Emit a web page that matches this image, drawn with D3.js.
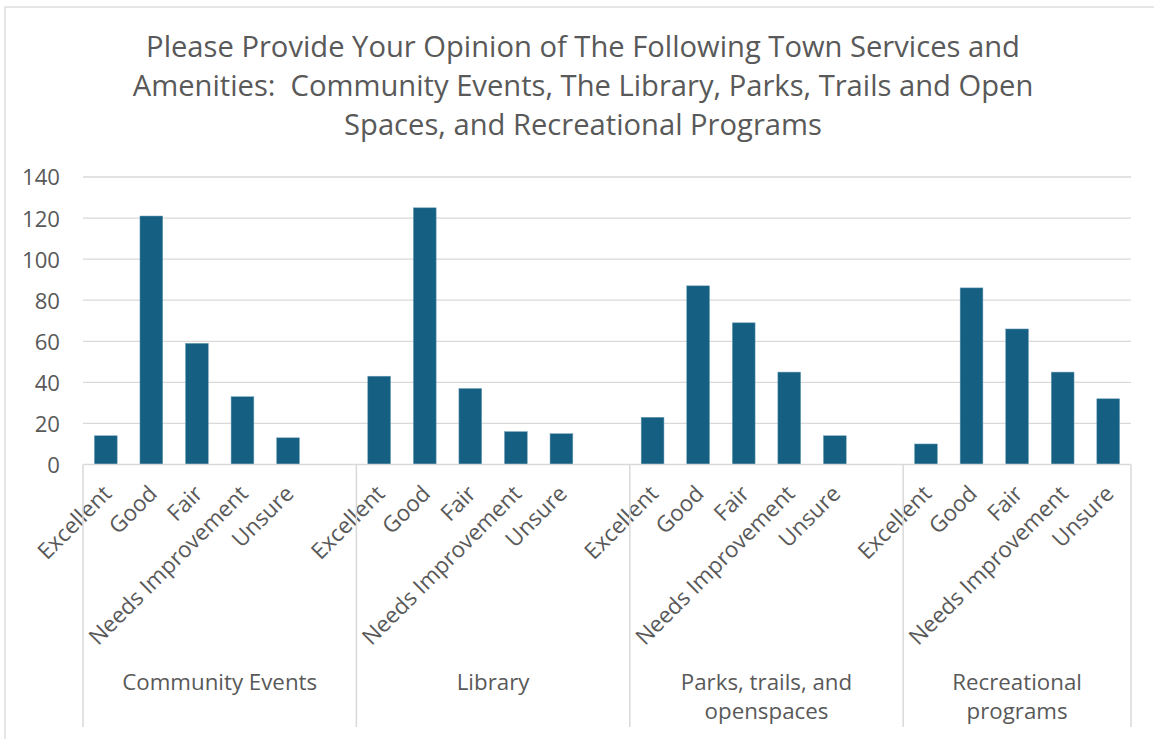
<!DOCTYPE html>
<html>
<head>
<meta charset="utf-8">
<script src="https://cdn.jsdelivr.net/npm/d3@7"></script>
<style>
  html, body { margin: 0; padding: 0; background: #ffffff; }
  svg { display: block; }
</style>
</head>
<body>
<svg id="chart" width="1154" height="739"></svg>
<script>
// ---------- data ----------
const titleLines = [
  "Please Provide Your Opinion of The Following Town Services and",
  "Amenities:  Community Events, The Library, Parks, Trails and Open",
  "Spaces, and Recreational Programs"
];
const groups = ["Community Events", "Library", "Parks, trails, and openspaces", "Recreational programs"];
const ratings = ["Excellent", "Good", "Fair", "Needs Improvement", "Unsure"];
const communityEvents = [14, 121, 59, 33, 13];
const library = [43, 125, 37, 16, 15];
const parks = [23, 87, 69, 45, 14];
const recreational = [10, 86, 66, 45, 32];
const yTicks = [0, 20, 40, 60, 80, 100, 120, 140];
// Excel leaves one blank category after each of the first three groups
const blankAfter = [true, true, true, false];

const seriesByGroup = [communityEvents, library, parks, recreational];

// ---------- layout ----------
const W = 1154, H = 739;
const plot = { left: 83, right: 1131, top: 177, bottom: 464.5 };
const FONT = "'Open Sans', 'Liberation Sans', Arial, sans-serif";
const TEXT = "#595959";
const GRID = "#d9d9d9";
const BAR = "#156082";

const svg = d3.select("#chart");

// font fitting helper (matches text widths of the original font)
function fitSize(sample, targetWidth) {
  const t = svg.append("text").attr("font-family", FONT).attr("font-size", 100)
    .style("white-space", "pre").text(sample);
  const w = t.node().getComputedTextLength();
  t.remove();
  return 100 * targetWidth / w;
}
const titleSize = fitSize(titleLines[0], 874);
const tickSize = fitSize("Needs Improvement", 214);
const ySize = fitSize("140", 38);
const groupSize = fitSize("Community Events", 195);

// chart border
svg.append("rect")
  .attr("x", 5).attr("y", 7).attr("width", W + 20).attr("height", H + 20)
  .attr("fill", "#fff").attr("stroke", GRID).attr("stroke-width", 1.3);

// title
svg.append("g").selectAll("text").data(titleLines).join("text")
  .attr("x", 583)
  .attr("y", (d, i) => 57 + i * 39)
  .attr("text-anchor", "middle")
  .attr("font-family", FONT)
  .attr("font-size", titleSize)
  .attr("fill", TEXT)
  .style("white-space", "pre")
  .text(d => d);

// build slots
const slots = [];
groups.forEach((g, gi) => {
  ratings.forEach((r, ri) => slots.push({ key: g + "|" + r, group: g, gi, rating: r, value: seriesByGroup[gi][ri] }));
  if (blankAfter[gi]) slots.push({ key: g + "|", group: g, gi, rating: "", value: null });
});

const x = d3.scaleBand()
  .domain(slots.map(d => d.key))
  .range([plot.left, plot.right])
  .paddingInner(0.5)
  .paddingOuter(0.25);
const step = x.step();

const y = d3.scaleLinear().domain([0, 140]).range([plot.bottom, plot.top]);

// gridlines
svg.append("g").selectAll("line").data(yTicks.filter(t => t > 0)).join("line")
  .attr("x1", plot.left).attr("x2", plot.right)
  .attr("y1", d => y(d)).attr("y2", d => y(d))
  .attr("stroke", GRID).attr("stroke-width", 1.3);

// y axis labels
const yAxis = d3.axisLeft(y).tickValues(yTicks).tickSize(0).tickPadding(0);
const yg = svg.append("g").attr("transform", `translate(${plot.left - 23},0)`).call(yAxis);
yg.select(".domain").remove();
yg.selectAll("text")
  .attr("font-family", FONT).attr("font-size", ySize).attr("fill", TEXT)
  .attr("dy", "0.36em");

// bars
svg.append("g").selectAll("rect").data(slots.filter(d => d.value !== null)).join("rect")
  .attr("x", d => x(d.key))
  .attr("width", x.bandwidth())
  .attr("y", d => y(d.value))
  .attr("height", d => y(0) - y(d.value))
  .attr("fill", BAR)
  .attr("stroke", "#6f9fb8").attr("stroke-width", 0.5);

// x axis line
svg.append("line")
  .attr("x1", plot.left).attr("x2", plot.right)
  .attr("y1", y(0)).attr("y2", y(0))
  .attr("stroke", GRID).attr("stroke-width", 1.5);

// category labels (rotated)
svg.append("g").selectAll("text").data(slots.filter(d => d.rating)).join("text")
  .attr("transform", d => `translate(${x(d.key) + x.bandwidth() / 2 + 7},${495}) rotate(-45)`)
  .attr("text-anchor", "end")
  .attr("font-family", FONT).attr("font-size", tickSize).attr("fill", TEXT)
  .text(d => d.rating);

// group separators & labels
const groupBounds = groups.map((g, gi) => {
  const gs = slots.filter(s => s.gi === gi);
  const start = x(gs[0].key) - step * 0.25;
  const end = x(gs[gs.length - 1].key) + x.bandwidth() + step * 0.25;
  return { g, start, end };
});
const sepX = [groupBounds[0].start].concat(groupBounds.map(b => b.end));
svg.append("g").selectAll("line").data(sepX).join("line")
  .attr("x1", d => d).attr("x2", d => d)
  .attr("y1", y(0)).attr("y2", 727)
  .attr("stroke", GRID).attr("stroke-width", 1.5);

function wrapWords(text, maxW, size) {
  const words = text.split(" ");
  const lines = [];
  let cur = "";
  const t = svg.append("text").attr("font-family", FONT).attr("font-size", size);
  words.forEach(w => {
    const trial = cur ? cur + " " + w : w;
    t.text(trial);
    if (t.node().getComputedTextLength() > maxW && cur) { lines.push(cur); cur = w; }
    else cur = trial;
  });
  if (cur) lines.push(cur);
  t.remove();
  return lines;
}

groupBounds.forEach(b => {
  const lines = wrapWords(b.g, (b.end - b.start) * 0.76, groupSize);
  svg.append("g").selectAll("text").data(lines).join("text")
    .attr("x", (b.start + b.end) / 2)
    .attr("y", (d, i) => 690 + i * 29)
    .attr("text-anchor", "middle")
    .attr("font-family", FONT).attr("font-size", groupSize).attr("fill", TEXT)
    .text(d => d);
});
</script>
</body>
</html>
